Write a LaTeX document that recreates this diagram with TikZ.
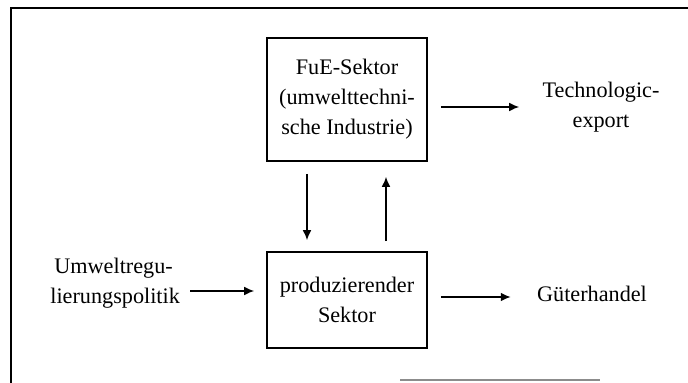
\documentclass[tikz,border=0pt]{standalone}
\usepackage{fontspec}
\setmainfont{Liberation Serif}
\usetikzlibrary{arrows.meta}
\begin{document}
\begin{tikzpicture}[x=0.5pt,y=-0.5pt,
  every node/.style={font=\fontsize{11.1pt}{15pt}\selectfont, inner sep=0pt},
  sectorbox/.style={draw, line width=0.8pt, minimum width=80pt, align=center},
  arr/.style={-{Latex[length=5pt,width=4.4pt]}, line width=0.8pt},
  lbl/.style={align=center}]
\useasboundingbox (0,0) rectangle (688,383);
% frame
\draw[line width=0.8pt] (11,383) -- (11,8) -- (688,8);
\draw[line width=0.6pt, black!45] (400,380) -- (600,380);
% boxes
\node[sectorbox, minimum height=61.5pt] (fue) at (347,99.5) {FuE-Sektor\\(umwelttechni-\\sche Industrie)};
\node[sectorbox, minimum height=48pt] (prod) at (347,300) {produzierender\\Sektor};
% texts
\node[lbl] (tech) at (601,107.5) {Technologic-\\export};
\node[lbl] (gut) at (592,294) {Güterhandel};
\node[align=left, anchor=west] (umw) at (50,283) {\hspace{2pt}Umweltregu-\\lierungspolitik};
\coordinate (ua) at (190,291);
% connectors
\draw[arr, shorten <=6pt, shorten >=5.5pt] ([xshift=-20pt]fue.south) -- ([xshift=-20pt]prod.north);
\draw[arr, shorten <=5pt, shorten >=7.5pt] ([xshift=19.5pt]prod.north) -- ([xshift=19.5pt]fue.south);
\draw[arr, shorten <=6.5pt, shorten >=11.5pt] ([yshift=-3.75pt]fue.east) -- ([yshift=-3.75pt]fue.east -| tech.west);
\draw[arr, shorten <=6.5pt, shorten >=13pt] ([yshift=1.5pt]prod.east) -- ([yshift=1.5pt]prod.east -| gut.west);
\draw[arr, shorten >=6pt] (ua) -- (ua -| prod.west);
\end{tikzpicture}
\end{document}
